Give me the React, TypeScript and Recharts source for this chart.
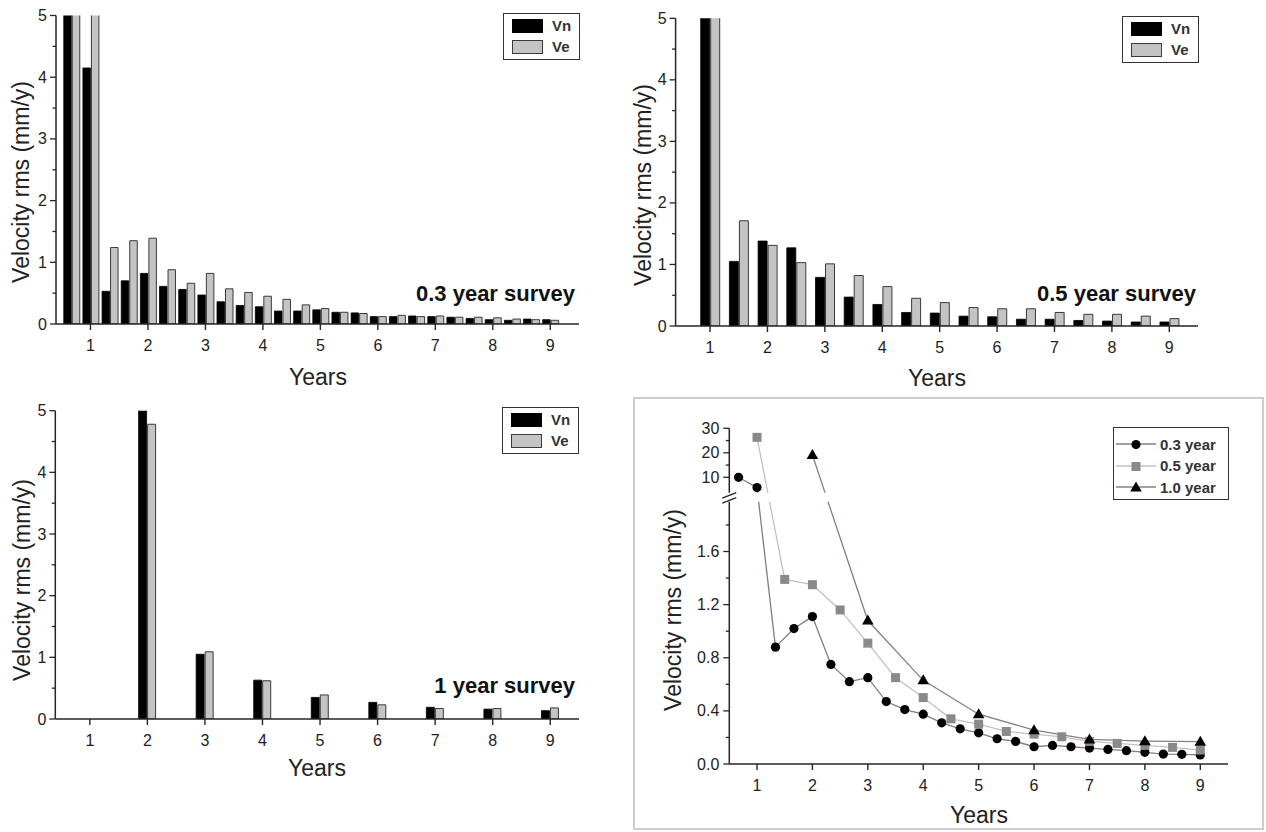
import React from 'react';
import { BarChart, Bar, XAxis, YAxis, Legend, Customized, LineChart, Line } from 'recharts';

const FONT = '"Liberation Sans", Arial, Helvetica, sans-serif';
const AXIS = '#262626';
const TEXT = '#222';

// ---------- data ----------
const YEARS_TICKS = [1, 2, 3, 4, 5, 6, 7, 8, 9];

// 0.3 year survey
const YEARS_03 = [0.667, 1.0, 1.333, 1.667, 2.0, 2.333, 2.667, 3.0, 3.333, 3.667, 4.0, 4.333, 4.667, 5.0, 5.333, 5.667, 6.0, 6.333, 6.667, 7.0, 7.333, 7.667, 8.0, 8.333, 8.667, 9.0];
const VN_03 = [8.0, 4.15, 0.53, 0.7, 0.82, 0.61, 0.56, 0.47, 0.36, 0.3, 0.28, 0.21, 0.21, 0.23, 0.19, 0.18, 0.12, 0.12, 0.13, 0.12, 0.11, 0.09, 0.07, 0.06, 0.08, 0.07];
const VE_03 = [11.6, 7.1, 1.24, 1.35, 1.39, 0.88, 0.66, 0.82, 0.57, 0.51, 0.45, 0.4, 0.31, 0.25, 0.19, 0.17, 0.12, 0.14, 0.12, 0.13, 0.11, 0.11, 0.1, 0.08, 0.07, 0.06];

// 0.5 year survey
const YEARS_05 = [1.0, 1.5, 2.0, 2.5, 3.0, 3.5, 4.0, 4.5, 5.0, 5.5, 6.0, 6.5, 7.0, 7.5, 8.0, 8.5, 9.0];
const VN_05 = [20.0, 1.05, 1.38, 1.27, 0.79, 0.47, 0.35, 0.22, 0.21, 0.16, 0.15, 0.11, 0.11, 0.09, 0.08, 0.065, 0.065];
const VE_05 = [31.0, 1.71, 1.31, 1.03, 1.01, 0.82, 0.64, 0.45, 0.38, 0.3, 0.28, 0.28, 0.22, 0.19, 0.19, 0.16, 0.12];

// 1 year survey
const YEARS_10 = [2, 3, 4, 5, 6, 7, 8, 9];
const VN_10 = [26.6, 1.05, 0.63, 0.35, 0.27, 0.19, 0.16, 0.135];
const VE_10 = [4.78, 1.09, 0.62, 0.39, 0.23, 0.17, 0.17, 0.18];

// combined rms (line panel)
const RMS_03 = [10.0, 5.8, 0.88, 1.02, 1.11, 0.75, 0.62, 0.65, 0.47, 0.41, 0.375, 0.31, 0.265, 0.235, 0.19, 0.17, 0.13, 0.14, 0.13, 0.12, 0.11, 0.1, 0.088, 0.075, 0.073, 0.068];
const RMS_05 = [26.3, 1.39, 1.35, 1.16, 0.91, 0.65, 0.5, 0.34, 0.3, 0.245, 0.225, 0.205, 0.17, 0.155, 0.14, 0.125, 0.105];
const RMS_10 = [19.1, 1.08, 0.63, 0.375, 0.255, 0.185, 0.172, 0.168];

const BAR_Y_TICKS = [0, 0.5, 1, 1.5, 2, 2.5, 3, 3.5, 4, 4.5, 5];
const LINE_Y_TICKS_REAL = [0, 0.2, 0.4, 0.6, 0.8, 1.0, 1.2, 1.4, 1.6, 1.8, 10, 15, 20, 25, 30];
const LINE_Y_MAJOR = [0, 0.4, 0.8, 1.2, 1.6, 10, 20, 30];
const BAR_SERIES = ['Vn', 'Ve'];
const LINE_SERIES = ['0.3 year', '0.5 year', '1.0 year'];

// ---------- broken axis transform ----------
const BREAK_AT = 2.0;
const UPPER_BASE = 1.4;
const UPPER_SCALE = 0.01845;
const brk = (v: number) => (v <= BREAK_AT ? v : BREAK_AT + (v - UPPER_BASE) * UPPER_SCALE);
const BREAK_MARK = 2.005;

// ---------- helpers ----------
const build = (xs: number[], a: number[], b: number[]) => xs.map((x, i) => ({ x, vn: a[i], ve: b[i] }));
const buildLine = (xs: number[], v: number[]) => xs.map((x, i) => ({ x, real: v[i], y: brk(v[i]) }));

const XTick = (props: any) => {
  const { x, y, payload } = props;
  return (
    <g>
      <line x1={x} x2={x} y1={y} y2={y + 6} stroke={AXIS} strokeWidth={1.4} />
      <text x={x} y={y + 21} textAnchor="middle" dominantBaseline="central" fontSize={16} fontFamily={FONT} fill={TEXT}>
        {payload.value}
      </text>
    </g>
  );
};

const BarYTick = (props: any) => {
  const { x, y, payload } = props;
  const v = payload.value;
  const major = Math.abs(v - Math.round(v)) < 1e-6;
  return (
    <g>
      <line x1={x} x2={x - (major ? 6 : 3.5)} y1={y} y2={y} stroke={AXIS} strokeWidth={1.3} />
      {major && (
        <text x={x - 9} y={y} textAnchor="end" dominantBaseline="central" fontSize={16} fontFamily={FONT} fill={TEXT}>
          {v}
        </text>
      )}
    </g>
  );
};

const LineYTick = (props: any) => {
  const { x, y, payload } = props;
  const v = payload.value;
  if (Math.abs(v - BREAK_MARK) < 1e-9) {
    return (
      <g>
        <rect x={x - 12} y={y - 5} width={520} height={9} fill="#fff" />
        <line x1={x - 7} y1={y + 0.5} x2={x + 7} y2={y - 5} stroke={AXIS} strokeWidth={1.4} />
        <line x1={x - 7} y1={y + 5.5} x2={x + 7} y2={y} stroke={AXIS} strokeWidth={1.4} />
      </g>
    );
  }
  const idx = LINE_Y_TICKS_REAL.findIndex((r) => Math.abs(brk(r) - v) < 1e-6);
  const real = idx >= 0 ? LINE_Y_TICKS_REAL[idx] : v;
  const major = LINE_Y_MAJOR.some((m) => Math.abs(m - real) < 1e-6);
  const label = real < 5 ? real.toFixed(1) : String(real);
  return (
    <g>
      <line x1={x} x2={x - (major ? 6 : 3.5)} y1={y} y2={y} stroke={AXIS} strokeWidth={1.3} />
      {major && (
        <text x={x - 10} y={y} textAnchor="end" dominantBaseline="central" fontSize={16} fontFamily={FONT} fill={TEXT}>
          {label}
        </text>
      )}
    </g>
  );
};

const BAR_COLORS: Record<string, { fill: string; stroke: string }> = {
  Vn: { fill: '#000000', stroke: '#000000' },
  Ve: { fill: '#c4c4c4', stroke: '#3a3a3a' },
};

const orderNames = (payload: any[], order: string[]) => {
  const got = (payload || []).map((p: any) => String(p.value));
  return order.filter((n) => got.length === 0 || got.includes(n));
};

const BarLegend = (props: any) => {
  const names = orderNames(props.payload, BAR_SERIES);
  return (
    <div style={{ position: 'relative', boxSizing: 'border-box', width: 77, height: 47, border: '1.5px solid #333', background: '#fff', fontFamily: FONT }}>
      {names.map((n: string, i: number) => (
        <React.Fragment key={n}>
          <div style={{ position: 'absolute', left: 8, top: 5 + i * 21, width: 31, height: 14, boxSizing: 'border-box', background: BAR_COLORS[n].fill, border: `1px solid ${BAR_COLORS[n].stroke}` }} />
          <div style={{ position: 'absolute', left: 48, top: 3 + i * 21, height: 18, lineHeight: '18px', fontSize: 15, fontWeight: 'bold', color: '#333' }}>{n}</div>
        </React.Fragment>
      ))}
    </div>
  );
};

const LINE_STYLE: Record<string, { stroke: string; marker: string; mfill: string }> = {
  '0.3 year': { stroke: '#877b7b', marker: 'circle', mfill: '#000' },
  '0.5 year': { stroke: '#c2c2c2', marker: 'square', mfill: '#8a8a8a' },
  '1.0 year': { stroke: '#8f7d7d', marker: 'triangle', mfill: '#000' },
};

const Marker = ({ kind, cx, cy, fill }: { kind: string; cx: number; cy: number; fill: string }) => {
  if (kind === 'circle') return <circle cx={cx} cy={cy} r={4.6} fill={fill} />;
  if (kind === 'square') return <rect x={cx - 4.5} y={cy - 4.5} width={9} height={9} fill={fill} />;
  return <polygon points={`${cx},${cy - 6} ${cx + 5.8},${cy + 4} ${cx - 5.8},${cy + 4}`} fill={fill} />;
};

const LineLegend = (props: any) => {
  const names = orderNames(props.payload, LINE_SERIES);
  return (
    <div style={{ position: 'relative', boxSizing: 'border-box', width: 116, height: 73, border: '1.5px solid #333', background: '#fff', fontFamily: FONT }}>
      {names.map((n: string, i: number) => {
        const s = LINE_STYLE[n];
        const cy = 16 + i * 21.5;
        return (
          <React.Fragment key={n}>
            <svg style={{ position: 'absolute', left: 0, top: cy - 8 }} width={46} height={16}>
              <line x1={2} x2={42} y1={8} y2={8} stroke={s.stroke} strokeWidth={1.3} />
              <Marker kind={s.marker} cx={22} cy={8.5} fill={s.mfill} />
            </svg>
            <div style={{ position: 'absolute', left: 46, top: cy - 9.5, height: 19, lineHeight: '19px', fontSize: 15, fontWeight: 'bold', color: '#333' }}>{n}</div>
          </React.Fragment>
        );
      })}
    </div>
  );
};

type BarPanelCfg = {
  left: number; top: number; width: number; height: number;
  plot: { l: number; r: number; t: number; b: number };
  data: { x: number; vn: number; ve: number }[];
  barSize: number; note: string;
  yTitle: { x: number; y: number }; xTitle: { x: number; y: number };
  noteAt: { x: number; y: number }; legendAt: { x: number; y: number };
};

const PANELS: BarPanelCfg[] = [
  {
    left: 0, top: 0, width: 620, height: 392, plot: { l: 56, r: 579, t: 15.5, b: 324 },
    data: build(YEARS_03, VN_03, VE_03), barSize: 7.5, note: '0.3 year survey',
    yTitle: { x: 21, y: 182 }, xTitle: { x: 318, y: 377 }, noteAt: { x: 575, y: 300.5 }, legendAt: { x: 503, y: 13 },
  },
  {
    left: 620, top: 0, width: 646, height: 392, plot: { l: 55.6, r: 578, t: 18.3, b: 326 },
    data: build(YEARS_05, VN_05, VE_05), barSize: 9, note: '0.5 year survey',
    yTitle: { x: 22.6, y: 185 }, xTitle: { x: 317, y: 378 }, noteAt: { x: 576, y: 301 }, legendAt: { x: 502, y: 16 },
  },
  {
    left: 0, top: 390, width: 620, height: 400, plot: { l: 55.3, r: 579, t: 20.7, b: 329 },
    data: build(YEARS_10, VN_10, VE_10), barSize: 8, note: '1 year survey',
    yTitle: { x: 21.7, y: 190 }, xTitle: { x: 317, y: 378 }, noteAt: { x: 575, y: 303 }, legendAt: { x: 502, y: 17 },
  },
];

const BarPanel = ({ cfg }: { cfg: BarPanelCfg }) => {
  const { plot } = cfg;
  return (
    <div style={{ position: 'absolute', left: cfg.left, top: cfg.top }}>
      <BarChart
        width={cfg.width}
        height={cfg.height}
        data={cfg.data}
        margin={{ top: plot.t, right: cfg.width - plot.r, bottom: 0, left: 0 }}
        barGap={1}
      >
        <XAxis
          type="number" dataKey="x" domain={[0.4, 9.5]} allowDataOverflow ticks={YEARS_TICKS} interval={0}
          height={cfg.height - plot.b} tickSize={0} tickMargin={0} tickLine={false} tick={<XTick />}
          axisLine={{ stroke: AXIS, strokeWidth: 1.5 }}
        />
        <YAxis
          type="number" domain={[0, 5]} allowDataOverflow ticks={BAR_Y_TICKS} interval={0}
          width={plot.l} tickSize={0} tickMargin={0} tickLine={false} tick={<BarYTick />}
          axisLine={{ stroke: AXIS, strokeWidth: 1.5 }}
        />
        <Bar dataKey="vn" name="Vn" fill={BAR_COLORS.Vn.fill} stroke={BAR_COLORS.Vn.stroke} strokeWidth={0.8} barSize={cfg.barSize} isAnimationActive={false} />
        <Bar dataKey="ve" name="Ve" fill={BAR_COLORS.Ve.fill} stroke={BAR_COLORS.Ve.stroke} strokeWidth={1} barSize={cfg.barSize} isAnimationActive={false} />
        <Legend
          layout="horizontal" verticalAlign="middle" align="center" content={<BarLegend />}
          wrapperStyle={{ left: cfg.legendAt.x, top: cfg.legendAt.y, right: 'auto', bottom: 'auto', width: 77, height: 47 }}
        />
        <Customized
          component={() => (
            <g fontFamily={FONT}>
              <text transform={`translate(${cfg.yTitle.x},${cfg.yTitle.y}) rotate(-90)`} textAnchor="middle" dominantBaseline="central" fontSize={23} fill={TEXT}>
                Velocity rms (mm/y)
              </text>
              <text x={cfg.xTitle.x} y={cfg.xTitle.y} textAnchor="middle" dominantBaseline="central" fontSize={23} fill={TEXT}>
                Years
              </text>
              <text x={cfg.noteAt.x} y={cfg.noteAt.y} textAnchor="end" fontSize={22} fontWeight="bold" fill="#111">
                {cfg.note}
              </text>
            </g>
          )}
        />
      </BarChart>
    </div>
  );
};

const LinePanel = () => {
  const W = 630;
  const H = 431;
  const plot = { l: 95.3, r: 594, t: 29.3, b: 365 };
  const yTicks = [...LINE_Y_TICKS_REAL.map(brk), BREAK_MARK].sort((a, b) => a - b);
  const series = [
    { name: LINE_SERIES[0], data: buildLine(YEARS_03, RMS_03) },
    { name: LINE_SERIES[1], data: buildLine(YEARS_05, RMS_05) },
    { name: LINE_SERIES[2], data: buildLine(YEARS_10, RMS_10) },
  ];
  return (
    <>
      <div style={{ position: 'absolute', left: 633, top: 397, width: 631, height: 433, boxSizing: 'border-box', border: '2px solid #cdcdcd' }} />
      <div style={{ position: 'absolute', left: 634, top: 399 }}>
        <LineChart width={W} height={H} margin={{ top: plot.t, right: W - plot.r, bottom: 0, left: 0 }}>
          <XAxis
            type="number" dataKey="x" domain={[0.5, 9.5]} allowDataOverflow ticks={YEARS_TICKS} interval={0}
            height={H - plot.b} tickSize={0} tickMargin={0} tickLine={false} tick={<XTick />}
            axisLine={{ stroke: AXIS, strokeWidth: 1.5 }}
          />
          {series.map((s) => {
            const st = LINE_STYLE[s.name];
            return (
              <Line
                key={s.name}
                data={s.data}
                dataKey="y"
                name={s.name}
                type="linear"
                stroke={st.stroke}
                strokeWidth={1.3}
                isAnimationActive={false}
                dot={(p: any) => <Marker key={`${s.name}-${p.index}`} kind={st.marker} cx={p.cx} cy={p.cy} fill={st.mfill} />}
                activeDot={false}
              />
            );
          })}
          <YAxis
            type="number" domain={[0, brk(30)]} allowDataOverflow ticks={yTicks} interval={0}
            width={plot.l} tickSize={0} tickMargin={0} tickLine={false} tick={<LineYTick />}
            axisLine={{ stroke: AXIS, strokeWidth: 1.5 }}
          />
          <Legend
            layout="horizontal" verticalAlign="middle" align="center" content={<LineLegend />}
            wrapperStyle={{ left: 479, top: 28, right: 'auto', bottom: 'auto', width: 116, height: 73 }}
          />
          <Customized
            component={() => (
              <g fontFamily={FONT}>
                <text transform={`translate(38.6,211) rotate(-90)`} textAnchor="middle" dominantBaseline="central" fontSize={23} fill={TEXT}>
                  Velocity rms (mm/y)
                </text>
                <text x={345} y={416} textAnchor="middle" dominantBaseline="central" fontSize={23} fill={TEXT}>
                  Years
                </text>
              </g>
            )}
          />
        </LineChart>
      </div>
    </>
  );
}

export default function App() {
  return (
    <div style={{ position: 'absolute', left: 0, top: 0, width: 1266, height: 832, background: '#fff', overflow: 'hidden' }}>
      {PANELS.map((p, i) => (
        <BarPanel key={i} cfg={p} />
      ))}
      <LinePanel />
    </div>
  );
}
